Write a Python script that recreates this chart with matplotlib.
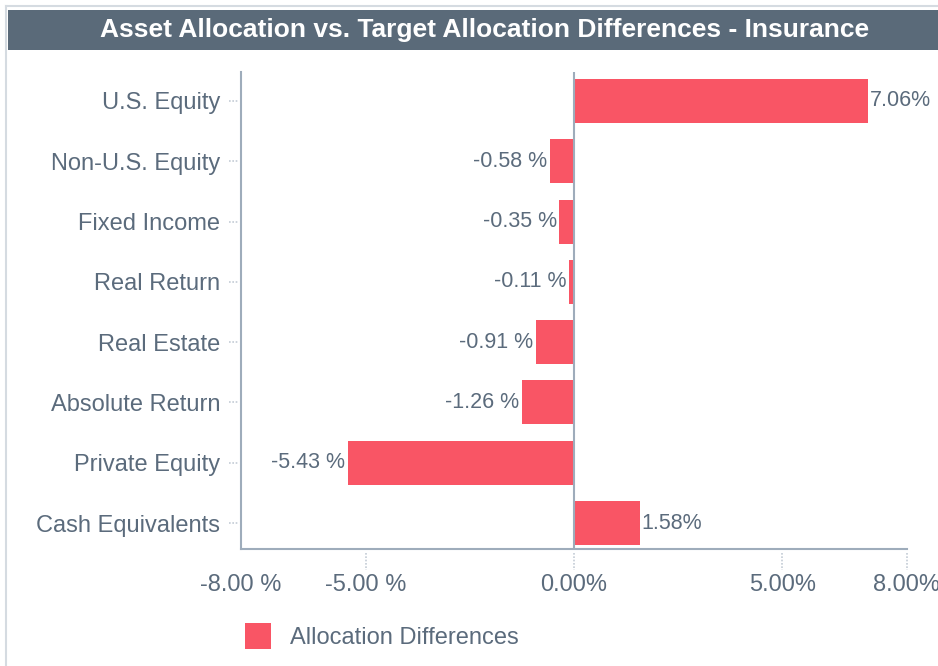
import numpy as np
import matplotlib.pyplot as plt
from matplotlib.patches import Rectangle
from matplotlib.lines import Line2D
import matplotlib.transforms as mtransforms

# data
categories = ['U.S. Equity', 'Non-U.S. Equity', 'Fixed Income', 'Real Return',
              'Real Estate', 'Absolute Return', 'Private Equity', 'Cash Equivalents']
differences = [7.06, -0.58, -0.35, -0.11, -0.91, -1.26, -5.43, 1.58]
xticks = [-8, -5, 0, 5, 8]
xtick_labels = ['-8.00 %', '-5.00 %', '0.00%', '5.00%', '8.00%']

bar_color = '#f95565'
text_color = '#5b6b7c'
axis_color = '#9eacbb'
title_bg = '#5a6a79'

plt.rcParams['font.family'] = ['Liberation Sans', 'DejaVu Sans']

fig = plt.figure(figsize=(9.38, 6.66), dpi=100)
W, H = 938, 666

# outer border and title bar
fig.add_artist(Line2D([6 / W, 6 / W], [0, 1 - 6 / H], color='#d5dbe1', lw=1.5))
fig.add_artist(Line2D([6 / W, 1], [1 - 6 / H, 1 - 6 / H], color='#d5dbe1', lw=1.5))
fig.add_artist(Rectangle((8 / W, 1 - 50 / H), 1, 40 / H, color=title_bg, lw=0))
fig.text(485 / W, 1 - 30 / H, 'Asset Allocation vs. Target Allocation Differences - Insurance',
         color='white', fontsize=19, fontweight='bold', ha='center', va='center',
         family=['Liberation Sans Narrow', 'Liberation Sans'])

ax = fig.add_axes([241 / W, (H - 549) / H, (907 - 241) / W, (549 - 72) / H])
y = np.arange(len(categories))
ax.barh(y, differences, height=0.73, color=bar_color, zorder=2)

ax.set_xlim(-8, 8)
ax.set_ylim(len(categories) - 1 + 0.43, -0.48)

for s in ['top', 'right']:
    ax.spines[s].set_visible(False)
for s in ['left', 'bottom']:
    ax.spines[s].set_color(axis_color)
    ax.spines[s].set_linewidth(1.5)
ax.axvline(0, color=axis_color, lw=1.5, zorder=3)

ax.set_xticks(xticks)
ax.set_xticklabels(xtick_labels, fontsize=17, color=text_color)
ax.set_yticks(y)
ax.set_yticklabels(categories, fontsize=17, color=text_color)
ax.tick_params(axis='x', length=0, pad=18)
ax.tick_params(axis='y', length=0, pad=15)

# dotted tick marks
tx = mtransforms.blended_transform_factory(ax.transData, ax.transAxes)
for t in xticks[1:]:
    ax.plot([t, t], [-0.008, -0.045], transform=tx, color='#c3ccd5', lw=1.2,
            ls=(0, (1, 1)), clip_on=False)
ty = mtransforms.blended_transform_factory(ax.transAxes, ax.transData)
for yi in y:
    ax.plot([-0.018, -0.003], [yi, yi], transform=ty, color='#c3ccd5', lw=1.2,
            ls=(0, (1, 1)), clip_on=False)

# value labels
for yi, v in zip(y, differences):
    if v >= 0:
        ax.text(v + 0.05, yi, f'{v:.2f}%', ha='left', va='center',
                fontsize=15.5, color=text_color)
    else:
        ax.text(v - 0.06, yi, f'{v:.2f} %', ha='right', va='center',
                fontsize=15.5, color=text_color)

# legend
fig.add_artist(Rectangle((245 / W, 1 - 649 / H), 26 / W, 26 / H, color=bar_color, lw=0))
fig.text(290 / W, 1 - 638 / H, 'Allocation Differences', fontsize=17,
         color=text_color, va='center', ha='left')

fig.savefig('out.png', dpi=100)
